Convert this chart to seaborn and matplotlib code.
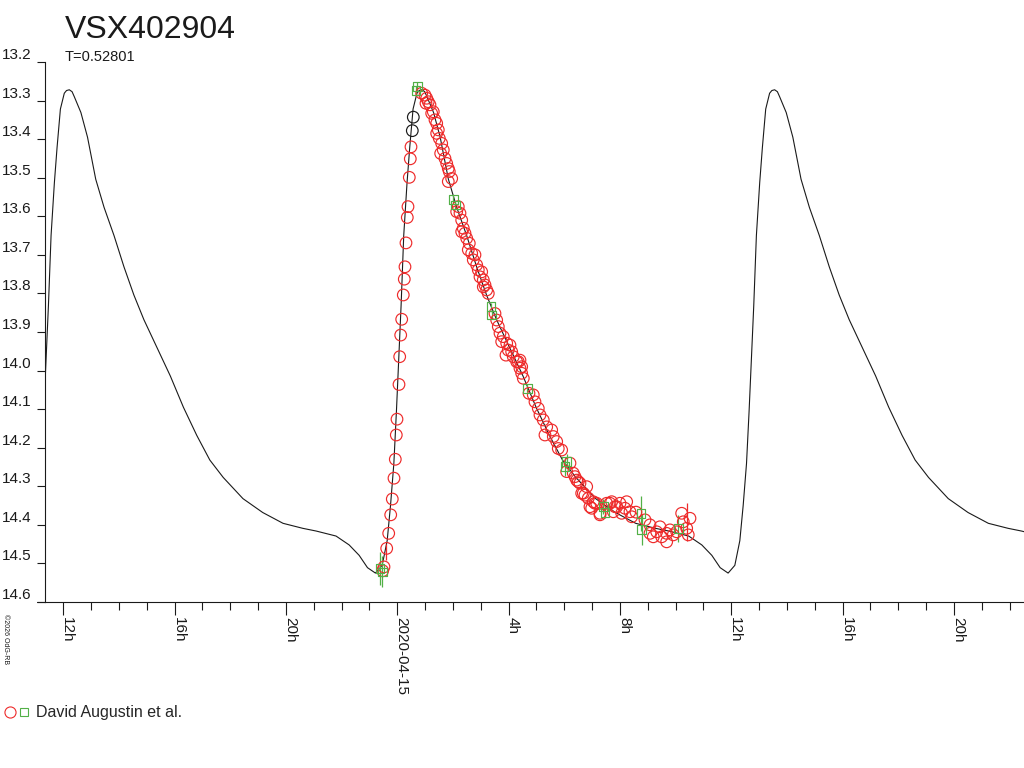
import matplotlib
matplotlib.use("Agg")
import matplotlib.pyplot as plt
import seaborn as sns
import numpy as np
from matplotlib.lines import Line2D
from matplotlib.legend_handler import HandlerTuple

# x values are hours since 2020-04-14 00:00
period_h = 12.672          # T = 0.52801 d
peak_epoch_h = 12.215      # first visible maximum
n_cycles = [0, 1, 2]

# one cycle of the model light curve, hours from maximum vs magnitude
model_dt = [-1.67, -1.43, -1.25, -1.13, -1.01, -0.917, -0.833, -0.75, -0.655, -0.536,
            -0.44, -0.32, -0.18, -0.10, 0.0, 0.10, 0.18, 0.417, 0.655, 0.95, 1.25, 1.607,
            1.964, 2.32, 2.68, 3.155, 3.63, 4.10, 4.58, 5.05, 5.53, 6.24,
            6.95, 7.68, 8.39, 8.87, 9.585, 10.055, 10.415, 10.715, 11.0]
model_mag = [14.525, 14.505, 14.441, 14.350, 14.241, 14.105, 13.968, 13.832, 13.650, 13.513,
             13.422, 13.322, 13.281, 13.274, 13.272, 13.277, 13.290, 13.331, 13.395, 13.504, 13.577, 13.650,
             13.731, 13.804, 13.868, 13.941, 14.014, 14.095, 14.168, 14.232, 14.277, 14.332,
             14.368, 14.396, 14.409, 14.416, 14.429, 14.452, 14.479, 14.511, 14.525]

red_t = [23.476, 23.523, 23.620, 23.692, 23.764, 23.821, 23.882, 23.929, 23.965, 23.990,
         24.062, 24.087, 24.123, 24.159, 24.216, 24.252, 24.277, 24.313, 24.360, 24.385,
         24.432, 24.468, 24.493,
         24.877, 24.996, 25.057, 25.114, 25.032, 25.175, 25.294, 25.237, 25.355, 25.416,
         25.474, 25.416, 25.510, 25.596, 25.653, 25.560, 25.714, 25.776, 25.833, 25.869,
         25.955, 25.833, 26.192, 26.253, 26.135, 26.315, 26.372, 26.315, 26.433, 26.494,
         26.588, 26.552, 26.674, 26.731, 26.792, 26.853, 26.911, 27.033, 26.972, 27.091,
         27.152, 27.213, 27.091, 27.270, 27.511, 27.572, 27.630, 27.691, 27.809, 27.752,
         27.932, 27.989, 27.906, 28.111, 28.169, 28.291, 28.409, 28.470, 28.050, 28.348,
         28.409, 28.470, 28.528, 28.733, 28.887, 28.948, 29.067, 29.128, 29.246, 29.369,
         29.307, 29.548, 29.606, 29.728, 29.785, 29.907, 30.206, 30.324, 30.447, 30.565,
         30.626, 30.745, 30.863, 30.924, 31.104, 31.284, 31.524, 31.704, 31.884, 30.385,
         30.504, 30.806, 30.684, 31.043, 30.985, 31.165, 31.643, 31.823, 31.762, 32.002,
         32.182, 32.063, 32.243, 32.361, 32.423, 32.577, 32.901, 33.080, 33.080, 33.199,
         33.321, 33.439, 33.501, 33.680, 33.680, 33.799, 33.917, 34.039, 34.219, 34.277,
         34.399, 34.518, 34.456, 30.087, 31.284]
red_mag = [14.519, 14.509, 14.461, 14.422, 14.374, 14.333, 14.279, 14.230, 14.167, 14.126,
           14.036, 13.964, 13.908, 13.867, 13.804, 13.763, 13.731, 13.669, 13.603, 13.575,
           13.499, 13.451, 13.420,
           13.281, 13.286, 13.294, 13.303, 13.307, 13.311, 13.329, 13.333, 13.350, 13.359,
           13.376, 13.385, 13.398, 13.411, 13.428, 13.437, 13.450, 13.463, 13.476, 13.484,
           13.502, 13.510, 13.575, 13.592, 13.588, 13.610, 13.631, 13.640, 13.644, 13.657,
           13.670, 13.687, 13.696, 13.713, 13.700, 13.726, 13.739, 13.744, 13.757, 13.765,
           13.778, 13.791, 13.783, 13.800, 13.852, 13.869, 13.886, 13.903, 13.912, 13.925,
           13.929, 13.947, 13.960, 13.951, 13.964, 13.977, 13.973, 13.990, 13.934, 13.977,
           13.994, 14.007, 14.020, 14.059, 14.063, 14.081, 14.098, 14.115, 14.128, 14.146,
           14.167, 14.154, 14.171, 14.184, 14.202, 14.206, 14.240, 14.266, 14.284, 14.292,
           14.318, 14.323, 14.331, 14.353, 14.344, 14.374, 14.344, 14.340, 14.353, 14.275,
           14.288, 14.301, 14.318, 14.340, 14.357, 14.344, 14.344, 14.353, 14.366, 14.344,
           14.357, 14.370, 14.340, 14.366, 14.379, 14.367, 14.387, 14.400, 14.422, 14.431,
           14.418, 14.405, 14.431, 14.444, 14.422, 14.413, 14.426, 14.418, 14.370, 14.392,
           14.409, 14.383, 14.426, 14.262, 14.370]

black_t = [24.540, 24.576]
black_mag = [13.378, 13.343]

green_t = [23.379, 23.462, 24.672, 24.719, 26.013, 26.085, 27.367, 27.393, 28.672,
           30.026, 30.087, 31.402, 31.463, 32.757, 32.782, 34.097]
green_mag = [14.513, 14.522, 13.273, 13.264, 13.556, 13.571, 13.834, 13.856, 14.046,
             14.249, 14.236, 14.353, 14.367, 14.370, 14.413, 14.409]
green_err = [0.043, 0.040, 0.012, 0.012, 0.010, 0.010, 0.010, 0.010, 0.010,
             0.025, 0.020, 0.020, 0.015, 0.045, 0.040, 0.035]

red_bar_t = [34.399, 23.60]
red_bar_mag = [14.393, 14.470]
red_bar_err = [0.050, 0.020]

major_ticks = [12, 16, 20, 24, 28, 32, 36, 40, 44]
major_labels = ["12h", "16h", "20h", "2020-04-15", "4h", "8h", "12h", "16h", "20h"]
minor_ticks = list(range(12, 47))
y_ticks = [13.2, 13.3, 13.4, 13.5, 13.6, 13.7, 13.8, 13.9, 14.0, 14.1, 14.2, 14.3, 14.4, 14.5, 14.6]

sns.set_style("ticks")
plt.rcParams["font.family"] = ["Liberation Sans", "DejaVu Sans"]

red = "#ee2a2a"
green = "#52b047"
ink = "#1a1a1a"

fig = plt.figure(figsize=(10.24, 7.68), dpi=100)
ax = fig.add_axes([45 / 1024, 166 / 768, 979 / 1024, 540 / 768])

# model curve, repeated with the period
curve_t, curve_m = [], []
for k in n_cycles:
    curve_t += [peak_epoch_h + k * period_h + d for d in model_dt]
    curve_m += model_mag
sns.lineplot(x=curve_t, y=curve_m, ax=ax, sort=False, estimator=None, color=ink, lw=0.8)

ax.errorbar(green_t, green_mag, yerr=green_err, fmt="none", ecolor=green, elinewidth=0.9, capsize=0)
ax.errorbar(red_bar_t, red_bar_mag, yerr=red_bar_err, fmt="none", ecolor=red, elinewidth=0.9, capsize=0)
sns.scatterplot(x=red_t, y=red_mag, ax=ax, marker="o", s=70, facecolor="none",
                edgecolor=red, linewidth=0.85, zorder=3)
sns.scatterplot(x=black_t, y=black_mag, ax=ax, marker="o", s=70, facecolor="none",
                edgecolor=ink, linewidth=0.85, zorder=3)
sns.scatterplot(x=green_t, y=green_mag, ax=ax, marker="s", s=40, facecolor="none",
                edgecolor=green, linewidth=0.85, zorder=4)

ax.set_xlim(11.342, 46.52)
ax.set_ylim(14.6, 13.2)
ax.set_xlabel("")
ax.set_ylabel("")

ax.set_xticks(major_ticks)
ax.set_xticks(minor_ticks, minor=True)
ax.set_xticklabels(major_labels, rotation=270, rotation_mode="anchor", ha="left", va="baseline")
ax.set_yticks(y_ticks)
ax.set_yticklabels([f"{v:.1f}" for v in y_ticks])
for lbl in ax.get_yticklabels():
    lbl.set_va("bottom")

ax.tick_params(axis="x", which="major", length=9.5, width=0.8, pad=1, labelsize=11, color=ink, labelcolor=ink)
ax.tick_params(axis="x", which="minor", length=6, width=0.8, color=ink)
ax.tick_params(axis="y", which="major", length=6, width=0.8, pad=3.5, labelsize=11, color=ink, labelcolor=ink)

sns.despine(ax=ax, top=True, right=True)
for s in ["left", "bottom"]:
    ax.spines[s].set_color(ink)
    ax.spines[s].set_linewidth(0.8)
# x axis line runs a little past the y axis
ax.plot([-8 / 979, 0], [0, 0], transform=ax.transAxes, clip_on=False, color=ink, lw=0.8)

fig.text(65 / 1024, 1 - 30 / 768, "VSX402904", fontsize=23, ha="left", va="center", color=ink)
fig.text(65 / 1024, 1 - 57 / 768, "T=0.52801", fontsize=10.5, ha="left", va="center", color=ink)
fig.text(2 / 1024, 1 - 614 / 768, "\u00a92026 OdG-RB", fontsize=5, rotation=270, ha="left", va="top", color=ink)

handle = (Line2D([], [], marker="o", ls="none", mfc="none", mec=red, ms=8, mew=0.8),
          Line2D([], [], marker="s", ls="none", mfc="none", mec=green, ms=6, mew=0.8))
fig.legend([handle], ["David Augustin et al."], handler_map={tuple: HandlerTuple(ndivide=None, pad=0.2)},
           loc="center left", bbox_to_anchor=(4 / 1024, 1 - 713 / 768), frameon=False,
           handlelength=1.6, handletextpad=0.4, borderpad=0, borderaxespad=0, fontsize=11.5)

fig.savefig("out.png", dpi=100)
